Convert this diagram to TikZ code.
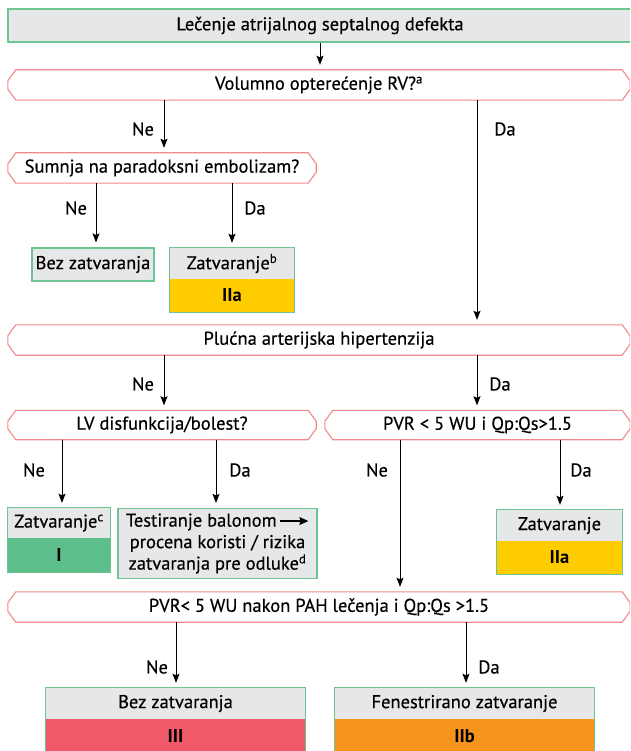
\documentclass[tikz,border=0pt]{standalone}
\usepackage{fontspec}
\setmainfont{PT Sans}
\newfontfamily\medfont{PT Sans}[FakeBold=0.4]
\usetikzlibrary{arrows.meta}

\definecolor{boxgray}{HTML}{E6E7E8}
\definecolor{boxgreen}{HTML}{6DC691}
\definecolor{decred}{HTML}{F08A8C}
\definecolor{recyellow}{HTML}{FFCC00}
\definecolor{recgreen}{HTML}{5BBE8B}
\definecolor{recred}{HTML}{F05A68}
\definecolor{recorange}{HTML}{F7941D}

% chamfered outline around a (plain) decision node
\newcommand\decframe[1]{%
  \draw[decline] ([xshift=8pt]#1.north west) -- ([xshift=-8pt]#1.north east)
    -- ([yshift=-11pt]#1.north east) -- ([yshift=11pt]#1.south east)
    -- ([xshift=-8pt]#1.south east) -- ([xshift=8pt]#1.south west)
    -- ([yshift=11pt]#1.south west) -- ([yshift=-11pt]#1.north west) -- cycle;}
% green frame around a two-part recommendation box
\newcommand\recframe[2]{\draw[resline] (#1.north west) rectangle (#2.south east);}

\begin{document}
\begin{tikzpicture}[x=1pt,y=-1pt,
  txt/.style={font=\medfont\fontsize{18.5}{21.5}\selectfont},
  decbox/.style={txt, inner sep=0pt, minimum height=30pt},
  decline/.style={draw=decred, line width=1.1pt, fill=white},
  resline/.style={draw=boxgreen, line width=1.1pt},
  resbox/.style={txt, draw=boxgreen, line width=1.1pt, fill=boxgray, inner sep=0pt, align=center},
  half/.style={txt, fill=boxgray, inner sep=0pt},
  grade/.style={font=\fontsize{18.5}{21}\selectfont\bfseries, inner sep=0pt},
  lab/.style={txt, inner sep=0pt},
  arr/.style={-{Stealth[length=9pt,width=7pt,inset=1.5pt]}, line width=1pt, shorten >=5pt}
]
\useasboundingbox (0,0) rectangle (630,751);
\clip (0,0) rectangle (630,751);

% title
\node[resbox, minimum width=624pt, minimum height=33pt] (top) at (320,25.5) {Lečenje atrijalnog septalnog defekta};

% decision nodes
\node[decbox, minimum width=622pt] (d1) at (319,85) {};
\decframe{d1}
\node[txt] at (d1) {Volumno opterećenje RV?\textsuperscript{a}};

\node[decbox, minimum width=308pt] (d2) at (162,168) {};
\decframe{d2}
\node[txt] at (d2) {Sumnja na paradoksni embolizam?};

\node[decbox, minimum width=622pt] (d3) at (319,340) {};
\decframe{d3}
\node[txt] at (d3) {Plućna arterijska hipertenzija};

\node[decbox, minimum width=308pt, minimum height=29pt] (d4) at (162,425) {};
\decframe{d4}
\node[txt] at (d4) {LV disfunkcija/bolest?};

\node[decbox, minimum width=305pt, minimum height=29pt] (d5) at (477.5,425) {};
\decframe{d5}
\node[txt] at (d5) {PVR < 5 WU i Qp:Qs>1.5};

\node[decbox, minimum width=622pt] (d6) at (319,607) {};
\decframe{d6}
\node[txt] at (d6) {PVR< 5 WU nakon PAH lečenja i Qp:Qs >1.5};

% recommendation boxes
\node[resbox, minimum width=122pt, minimum height=33pt] (bez1) at (93,264.5) {Bez zatvaranja};

\node[half, minimum width=124pt, minimum height=31pt] (zbt) at (232,263.5) {Zatvaranje\textsuperscript{b}};
\node[grade, fill=recyellow, minimum width=124pt, minimum height=33pt] (zbb) at (232,295.5) {IIa};
\recframe{zbt}{zbb}

\node[half, minimum width=102pt, minimum height=30pt] (zct) at (59,523) {Zatvaranje\textsuperscript{c}};
\node[grade, fill=recgreen, minimum width=102pt, minimum height=34pt] (zcb) at (59,555) {I};
\recframe{zct}{zcb}

\node[resbox, minimum width=199pt, minimum height=70pt] (test) at (217.5,543.5)
  {Testiranje balonom\,\tikz[baseline=-0.6ex]\draw[-{Stealth[length=9pt,width=8pt,inset=1pt]},line width=1.3pt] (0pt,0pt) -- (28pt,0pt);\\
   procena koristi / rizika\\ zatvaranja pre odluke\textsuperscript{d}};

\node[half, minimum width=125pt, minimum height=31pt] (z2t) at (559.5,525.5) {Zatvaranje};
\node[grade, fill=recyellow, minimum width=125pt, minimum height=33pt] (z2b) at (559.5,557.5) {IIa};
\recframe{z2t}{z2b}

\node[half, minimum width=259pt, minimum height=31pt] (b3t) at (175.5,703.5) {Bez zatvaranja};
\node[grade, fill=recred, minimum width=259pt, minimum height=34pt] (b3b) at (175.5,736) {III};
\recframe{b3t}{b3b}

\node[half, minimum width=259pt, minimum height=31pt] (fet) at (464.5,703.5) {Fenestrirano zatvaranje};
\node[grade, fill=recorange, minimum width=259pt, minimum height=34pt] (feb) at (464.5,736) {IIb};
\recframe{fet}{feb}

% connectors
\draw[arr] (top.south -| 320,0) -- (d1.north -| 320,0);

\draw[arr] (d1.south -| 164,0) -- (d2.north -| 164,0);
\node[lab] at (143,129) {Ne};
\draw[arr] (d1.south -| 477,0) -- (d3.north -| 477,0);
\node[lab] at (505,129) {Da};

\draw[arr] (d2.south -| 96,0) -- (bez1.north -| 96,0);
\node[lab] at (76,208) {Ne};
\draw[arr] (d2.south -| 232,0) -- (zbt.north -| 232,0);
\node[lab] at (255,208) {Da};

\draw[arr] (d3.south -| 164,0) -- (d4.north -| 164,0);
\node[lab] at (143,384) {Ne};
\draw[arr] (d3.south -| 477,0) -- (d5.north -| 477,0);
\node[lab] at (500,384) {Da};

\draw[arr] (d4.south -| 62,0) -- (zct.north -| 62,0);
\node[lab] at (34,470) {Ne};
\draw[arr] (d4.south -| 216,0) -- (test.north -| 216,0);
\node[lab] at (240,470) {Da};

\draw[arr] (d5.south -| 400,0) -- (d6.north -| 400,0);
\node[lab] at (377,470) {Ne};
\draw[arr] (d5.south -| 560,0) -- (z2t.north -| 560,0);
\node[lab] at (581,470) {Da};

\draw[arr] (d6.south -| 176,0) -- (b3t.north -| 176,0);
\node[lab] at (157,667) {Ne};
\draw[arr] (d6.south -| 466,0) -- (fet.north -| 466,0);
\node[lab] at (489,667) {Da};
\end{tikzpicture}
\end{document}
